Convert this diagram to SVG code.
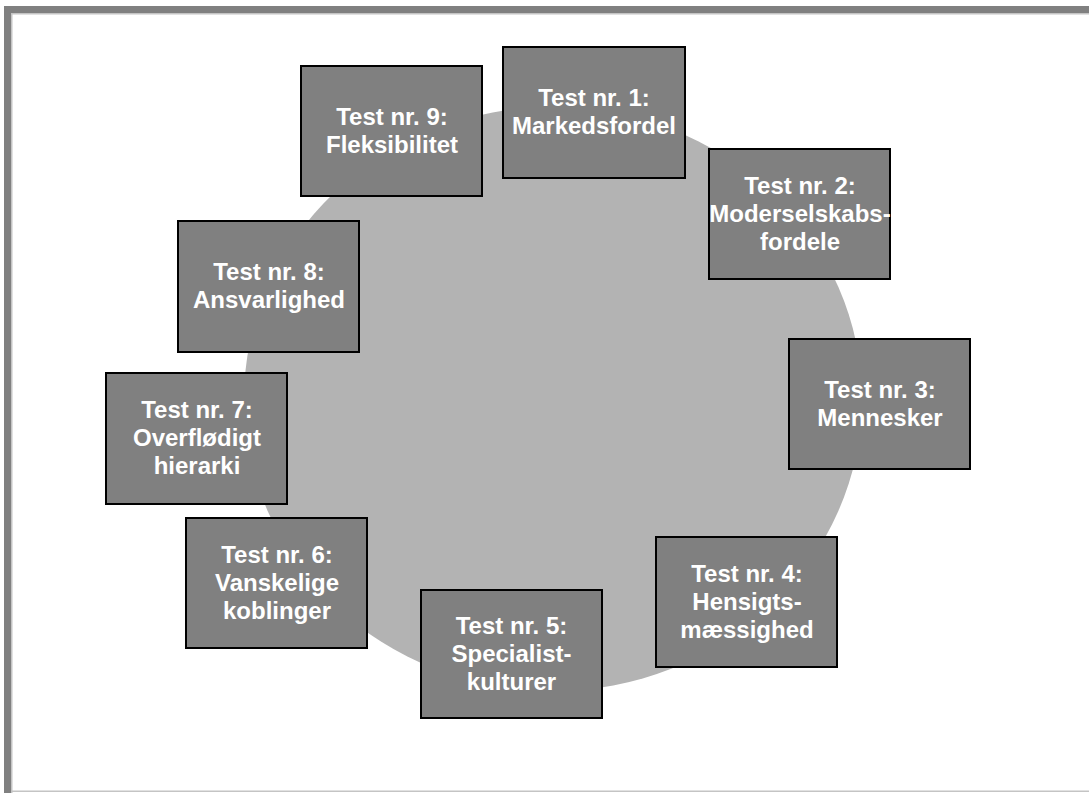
<svg xmlns="http://www.w3.org/2000/svg" width="1089" height="793" viewBox="0 0 1089 793">
<style>
.box{fill:#808080;stroke:#000;stroke-width:2}
.lbl{fill:#fff;font-family:"Liberation Sans",Arial,sans-serif;font-weight:bold;font-size:24px;text-anchor:middle}
</style>
<rect x="0" y="0" width="1089" height="793" fill="#fff"/>
<g id="frame">
<rect x="4" y="6" width="1085" height="7" fill="#808080"/>
<rect x="4" y="6" width="7" height="787" fill="#808080"/>
<rect x="11" y="13" width="1078" height="1.5" fill="#c4c4c4"/>
<rect x="11" y="13" width="1.5" height="780" fill="#c4c4c4"/>
<rect x="11" y="790.5" width="1078" height="1.5" fill="#c4c4c4"/>
</g>
<g id="circle">
<ellipse cx="553" cy="399" rx="309" ry="292" fill="#b3b3b3"/>
</g>
<g id="connectors"></g>
<g id="n1"><rect class="box" x="503" y="47" width="182" height="131"/>
<text class="lbl"><tspan x="594" y="106">Test nr. 1:</tspan><tspan x="594" y="134">Markedsfordel</tspan></text></g>
<g id="n2"><rect class="box" x="709" y="149" width="181" height="130"/>
<text class="lbl"><tspan x="800" y="194">Test nr. 2:</tspan><tspan x="800" y="222">Moderselskabs-</tspan><tspan x="800" y="250">fordele</tspan></text></g>
<g id="n3"><rect class="box" x="789" y="339" width="181" height="130"/>
<text class="lbl"><tspan x="880" y="398">Test nr. 3:</tspan><tspan x="880" y="426">Mennesker</tspan></text></g>
<g id="n4"><rect class="box" x="656" y="537" width="181" height="130"/>
<text class="lbl"><tspan x="747" y="582">Test nr. 4:</tspan><tspan x="747" y="610">Hensigts-</tspan><tspan x="747" y="638">mæssighed</tspan></text></g>
<g id="n5"><rect class="box" x="421" y="590" width="181" height="128"/>
<text class="lbl"><tspan x="511.5" y="634">Test nr. 5:</tspan><tspan x="511.5" y="662">Specialist-</tspan><tspan x="511.5" y="690">kulturer</tspan></text></g>
<g id="n6"><rect class="box" x="186" y="518" width="181" height="130"/>
<text class="lbl"><tspan x="277" y="563">Test nr. 6:</tspan><tspan x="277" y="591">Vanskelige</tspan><tspan x="277" y="619">koblinger</tspan></text></g>
<g id="n7"><rect class="box" x="106" y="373" width="181" height="131"/>
<text class="lbl"><tspan x="197" y="418">Test nr. 7:</tspan><tspan x="197" y="446">Overflødigt</tspan><tspan x="197" y="474">hierarki</tspan></text></g>
<g id="n8"><rect class="box" x="178" y="221" width="181" height="131"/>
<text class="lbl"><tspan x="269" y="280">Test nr. 8:</tspan><tspan x="269" y="308">Ansvarlighed</tspan></text></g>
<g id="n9"><rect class="box" x="301" y="66" width="181" height="130"/>
<text class="lbl"><tspan x="392" y="125">Test nr. 9:</tspan><tspan x="392" y="153">Fleksibilitet</tspan></text></g>
</svg>
